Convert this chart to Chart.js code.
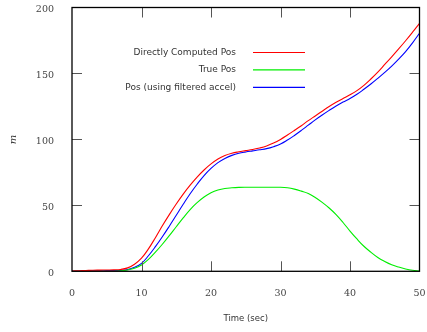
<!DOCTYPE html>
<html>
<head>
<meta charset="utf-8">
<script src="https://cdn.jsdelivr.net/npm/chart.js@4.4.1/dist/chart.umd.min.js"></script>
<style>
  html, body { margin: 0; padding: 0; background: #fff; }
  #wrap { width: 427px; height: 332px; position: relative; }
</style>
</head>
<body>
<div id="wrap"><canvas id="posChart"></canvas></div>
<script>
// time axis (sec)
const timeSec = [0, 1, 2, 3, 4, 5, 6, 7, 8, 9, 10, 11, 12, 13, 14, 15, 16, 17, 18, 19, 20,
  21, 22, 23, 24, 25, 26, 27, 28, 29, 30, 31, 32, 33, 34, 35, 36, 37, 38, 39, 40,
  41, 42, 43, 44, 45, 46, 47, 48, 49, 50];

// position (m)
const directPos = [0.2, 0.4, 0.6, 0.8, 0.9, 1, 1.1, 1.4, 2.6, 5.4, 10, 17, 25.5, 34.5, 43, 51, 58.5, 65.3, 71.4, 76.8, 81.4,
  85.2, 87.8, 89.5, 90.6, 91.5, 92.4, 93.5, 95, 97.2, 100, 103.3, 106.8, 110.4, 114.2, 117.8, 121.4, 124.9, 128.1, 131, 133.8,
  137, 141, 145.8, 151, 156.8, 162.6, 168.6, 174.8, 181.3, 188];
const truePos = [0, 0, 0, 0, 0, 0, 0, 0.3, 1, 2.3, 4.8, 9, 14.5, 20.5, 27, 33.8, 40.5, 46.8, 52, 56.3, 59.5,
  61.6, 62.8, 63.3, 63.6, 63.7, 63.7, 63.7, 63.7, 63.7, 63.7, 63.3, 62.3, 60.8, 59, 56, 52.3, 48, 43, 37, 30.5,
  24.5, 19, 14.5, 10.5, 7.5, 5, 3.2, 1.8, 0.8, 0.2];
const filteredPos = [0.1, 0.2, 0.3, 0.4, 0.4, 0.5, 0.5, 0.7, 1.3, 3, 6, 11.8, 18.7, 26.2, 34.2, 42.5, 50.8, 58.8, 66, 72.6, 78,
  82.4, 85.6, 87.9, 89.5, 90.5, 91.3, 92.1, 93, 94.5, 96.5, 99.5, 103, 106.8, 110.8, 114.8, 118.5, 122, 125.3, 128.3, 131,
  134.2, 138, 142, 146.3, 150.8, 155.6, 160.9, 166.6, 173.2, 180.5];

const xTicks = [0, 10, 20, 30, 40, 50];
const yTicks = [0, 50, 100, 150, 200];

const seriesNames = ['Directly Computed Pos', 'True Pos', 'Pos (using filtered accel)'];
const seriesColors = ['#ff0000', '#00ee00', '#0000ff'];

const pts = (arr) => timeSec.map((t, i) => ({ x: t, y: arr[i] }));

// gnuplot-like frame with inward ticks on all four sides
const frameTicks = {
  id: 'frameTicks',
  afterDatasetsDraw(chart) {
    const { ctx, chartArea: a, scales: { x, y } } = chart;
    ctx.save();
    ctx.strokeStyle = '#555';
    ctx.lineWidth = 1;
    ctx.beginPath();
    xTicks.slice(1, -1).forEach(v => {
      const px = Math.round(x.getPixelForValue(v)) + 0.5;
      ctx.moveTo(px, a.bottom); ctx.lineTo(px, a.bottom - 10);
      ctx.moveTo(px, a.top); ctx.lineTo(px, a.top + 10);
    });
    yTicks.slice(1, -1).forEach(v => {
      const py = Math.round(y.getPixelForValue(v)) + 0.5;
      ctx.moveTo(a.left, py); ctx.lineTo(a.left + 10, py);
      ctx.moveTo(a.right, py); ctx.lineTo(a.right - 10, py);
    });
    ctx.stroke();
    ctx.strokeStyle = '#000';
    ctx.lineWidth = 1.3;
    ctx.strokeRect(a.left, a.top, a.width, a.height);
    ctx.restore();
  }
};

// legend inside the plot: right-aligned labels, sample line to the right
const keyBox = {
  id: 'keyBox',
  afterDraw(chart) {
    const { ctx } = chart;
    ctx.save();
    ctx.font = '9px "DejaVu Sans", sans-serif';
    ctx.textAlign = 'right';
    ctx.textBaseline = 'middle';
    chart.data.datasets.forEach((ds, i) => {
      const yy = 52.5 + i * 17.4;
      ctx.fillStyle = '#333';
      ctx.fillText(ds.label, 236, yy);
      ctx.strokeStyle = ds.borderColor;
      ctx.lineWidth = 1.2;
      ctx.beginPath();
      ctx.moveTo(253, yy); ctx.lineTo(305, yy);
      ctx.stroke();
    });
    ctx.restore();
  }
};

const ctx = document.getElementById('posChart').getContext('2d');
const posChart = new Chart(ctx, {
  type: 'line',
  data: {
    datasets: [
      { label: seriesNames[0], data: pts(directPos), borderColor: seriesColors[0] },
      { label: seriesNames[1], data: pts(truePos), borderColor: seriesColors[1] },
      { label: seriesNames[2], data: pts(filteredPos), borderColor: seriesColors[2] },
    ],
  },
  options: {
    responsive: true,
    maintainAspectRatio: false,
    animation: false,
    layout: { padding: { top: 7.5, right: 7.5, left: 0, bottom: 0 } },
    elements: {
      point: { radius: 0 },
      line: { borderWidth: 1.1, tension: 0.4, fill: false },
    },
    plugins: {
      legend: { display: false },
      tooltip: { enabled: false },
    },
    scales: {
      x: {
        type: 'linear',
        min: 0,
        max: 50,
        afterFit: (s) => { s.height = 60.7; s.paddingLeft = 0; s.paddingRight = 0; },
        afterBuildTicks: (s) => { s.ticks = xTicks.map(v => ({ value: v })); },
        grid: { display: false, drawTicks: false },
        border: { display: false },
        ticks: {
          padding: 16.5,
          color: '#444',
          font: { family: '"DejaVu Serif", serif', size: 9.5 },
        },
        title: {
          display: true,
          text: 'Time (sec)',
          color: '#333',
          font: { family: '"DejaVu Sans", sans-serif', size: 8.5 },
          padding: { top: 0, bottom: 8 },
        },
      },
      y: {
        min: 0,
        max: 200,
        afterFit: (s) => { s.width = 72; s.paddingTop = 0; s.paddingBottom = 0; },
        afterBuildTicks: (s) => { s.ticks = yTicks.map(v => ({ value: v })); },
        grid: { display: false, drawTicks: false },
        border: { display: false },
        ticks: {
          padding: 18,
          labelOffset: 2.5,
          color: '#444',
          font: { family: '"DejaVu Serif", serif', size: 9.5 },
        },
        title: {
          display: true,
          text: 'm',
          color: '#333',
          font: { family: '"DejaVu Serif", serif', size: 10, style: 'italic' },
          padding: { top: 7, bottom: 0 },
        },
      },
    },
  },
  plugins: [frameTicks, keyBox],
});
</script>
</body>
</html>
